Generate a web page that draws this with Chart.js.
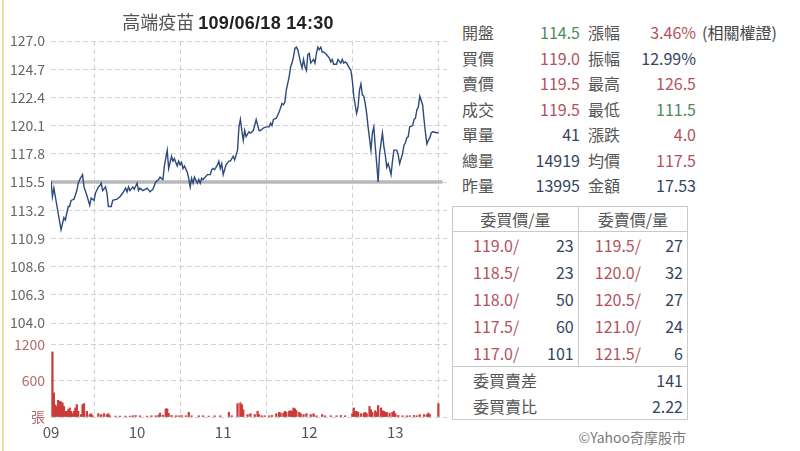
<!DOCTYPE html>
<html>
<head>
<meta charset="utf-8">
<script src="https://cdn.jsdelivr.net/npm/chart.js@4.4.1/dist/chart.umd.min.js"></script>
<style>
  html, body { margin: 0; padding: 0; background: #fff; }
  body { width: 800px; height: 451px; position: relative; overflow: hidden;
         font-family: 'Noto Sans CJK TC', 'Liberation Sans', sans-serif; color: #555; }
  #edge { position: absolute; left: 2px; top: 0; width: 2px; height: 451px; background: #efe29a; }
  #title { position: absolute; left: 0; width: 456px; top: 8px; text-align: center; font-size: 18px; line-height: 26px; }
  #title .name { color: #555; }
  #title .time { color: #222; font-weight: bold; font-family: 'Liberation Sans', sans-serif; letter-spacing: 0.3px; }
  #chartBox { position: absolute; left: 0; top: 0; width: 452px; height: 451px; }
  .info { position: absolute; left: 458px; top: 20px; border-collapse: collapse; font-size: 16px; }
  .info td { height: 25.5px; padding: 0; line-height: 25.5px; white-space: nowrap; }
  .info td.l1 { width: 42px; padding-left: 4px; }
  .info td.v1 { width: 76px; text-align: right; }
  .info td.l2 { width: 44px; padding-left: 8px; }
  .info td.v2 { width: 64px; text-align: right; }
  .info td.ex { padding-left: 6px; color: #444; }
  .g { color: #4d8a5e; } .r { color: #b2525e; } .n { color: #34445f; }
  .book { position: absolute; left: 452px; top: 206px; width: 236px; border-collapse: collapse;
          border: 1px solid #c9c9c9; font-size: 16px; }
  .book td { padding: 0; white-space: nowrap; }
  .book .hd td { height: 24px; text-align: center; border-bottom: 1px solid #c9c9c9; color: #555; }
  .book .row td { height: 26.8px; }
  .book td.split { border-right: 1px solid #c9c9c9; }
  .book td.px { padding-left: 20px; color: #b2525e; }
  .book td.px2 { padding-left: 16px; color: #b2525e; }
  .book td.qty { text-align: right; padding-right: 4px; color: #34445f; }
  .book .ft td { height: 26px; }
  .book .ft.first td { border-top: 1px solid #c9c9c9; }
  .book td.fl { padding-left: 20px; color: #555; }
  .book td.fv { text-align: right; padding-right: 4px; color: #34445f; }
  #credit { position: absolute; right: 114px; top: 427px; font-size: 14px; color: #7a7a7a; }
</style>
</head>
<body>
<div id="edge"></div>
<div id="chartBox"><canvas id="quoteChart"></canvas></div>
<div id="title"><span class="name">高端疫苗</span> <span class="time">109/06/18 14:30</span></div>

<table class="info">
  <tr><td class="l1">開盤</td><td class="v1 g">114.5</td><td class="l2">漲幅</td><td class="v2 r">3.46%</td><td class="ex">(相關權證)</td></tr>
  <tr><td class="l1">買價</td><td class="v1 r">119.0</td><td class="l2">振幅</td><td class="v2 n">12.99%</td><td></td></tr>
  <tr><td class="l1">賣價</td><td class="v1 r">119.5</td><td class="l2">最高</td><td class="v2 r">126.5</td><td></td></tr>
  <tr><td class="l1">成交</td><td class="v1 r">119.5</td><td class="l2">最低</td><td class="v2 g">111.5</td><td></td></tr>
  <tr><td class="l1">單量</td><td class="v1 n">41</td><td class="l2">漲跌</td><td class="v2 r">4.0</td><td></td></tr>
  <tr><td class="l1">總量</td><td class="v1 n">14919</td><td class="l2">均價</td><td class="v2 r">117.5</td><td></td></tr>
  <tr><td class="l1">昨量</td><td class="v1 n">13995</td><td class="l2">金額</td><td class="v2 n">17.53</td><td></td></tr>
</table>

<table class="book" id="book"></table>
<div id="credit">©Yahoo奇摩股市</div>

<script>
// price line: minutes after 09:00 and price
const priceTimes = [0, 1, 2, 7, 9, 10, 12, 13, 14, 16, 18, 19, 20, 22, 23, 25, 27, 28, 30, 31, 33, 34, 35, 36, 38, 39, 40, 42, 43, 46, 48, 50, 52, 53, 54, 55, 57, 58, 60, 61,
  62, 64, 67, 69, 71, 73, 75, 76, 78, 79, 81, 82, 84, 85, 86, 88, 89, 90, 91, 92, 93, 95, 96, 97, 98, 99, 100, 102, 103, 104, 105, 106, 109, 111, 112, 113, 114, 116, 117, 118, 119,
  120, 122, 124, 125, 127, 128, 130, 131, 132, 133, 134, 135, 136, 138, 139, 141, 143, 145, 146, 148, 150, 152, 153, 154, 155, 157, 159, 161, 162, 163, 164, 166, 167, 168, 169,
  170, 171, 172, 174, 175, 176, 177, 178, 179, 180, 181, 183, 184, 185, 186, 187, 188, 189, 190, 192, 194, 195, 196, 197, 199, 200, 202, 203, 204, 205, 206, 207, 209,
  210, 211, 212, 213, 214, 215, 216, 217, 218, 219, 220, 221, 223, 224, 225, 226, 227, 228, 229, 231, 232, 233, 234, 235, 236, 237, 238, 239, 241, 242, 243, 245, 246, 247, 248, 249,
  250, 252, 253, 254, 255, 256, 257, 259, 260, 261, 262, 263, 264, 265, 266, 270];
const prices = [115.6, 114.3, 115.0, 111.6, 112.6, 112.4, 113.5, 113.5, 114.0, 114.1, 114.8, 115.4, 115.7, 116.1, 115.1, 114.4, 113.6, 114.2, 114.0, 114.6, 115.1, 115.2, 115.4, 114.8, 115.1, 114.6, 113.5, 113.5, 114.0, 114.1, 114.3, 114.6, 115.0, 114.7, 115.1, 114.8, 115.1, 114.9, 115.4, 114.8,
  115.0, 114.8, 115.0, 114.7, 114.9, 115.5, 115.7, 115.9, 115.7, 116.8, 118.1, 116.6, 117.6, 117.2, 117.4, 116.8, 117.2, 116.9, 117.1, 116.6, 116.8, 116.3, 115.8, 115.1, 115.8, 115.4, 115.9, 115.4, 115.7, 115.4, 115.8, 115.7, 116.1, 116.1, 116.5, 116.6, 116.5, 116.9, 117.2, 116.6, 117.0,
  116.1, 116.9, 117.2, 117.2, 117.6, 117.3, 118.1, 120.0, 120.6, 119.7, 118.9, 119.7, 119.2, 119.6, 119.5, 119.7, 120.6, 119.7, 119.7, 119.9, 120.0, 120.0, 120.3, 120.1, 120.6, 120.7, 121.2, 121.9, 121.8, 122.0, 123.0, 124.1, 124.9, 125.2, 125.7,
  126.4, 126.5, 126.3, 125.2, 124.8, 125.5, 124.9, 124.6, 125.9, 126.0, 125.2, 125.5, 125.2, 126.0, 126.5, 126.3, 126.5, 126.1, 126.1, 125.9, 125.6, 125.3, 125.5, 125.1, 125.1, 125.5, 125.2, 125.5, 125.2, 125.3, 125.2, 125.0, 124.6,
  123.8, 122.5, 121.8, 121.1, 121.6, 123.0, 123.5, 122.6, 122.5, 121.9, 121.1, 120.0, 118.1, 119.5, 120.0, 118.4, 117.0, 115.5, 117.8, 119.5, 118.4, 117.7, 116.7, 117.0, 116.6, 116.1, 117.2, 118.1, 118.1, 117.7, 117.0, 117.8, 118.5, 118.7, 119.1, 119.2,
  120.0, 120.1, 120.6, 120.7, 121.4, 121.6, 122.5, 121.8, 120.6, 119.5, 118.6, 118.9, 119.1, 119.5, 119.6, 119.5];

// volume bars (張)
const volTimes = [1, 2, 3, 4, 5, 6, 7, 8, 9, 10, 11, 12, 13, 14, 15, 16, 17, 18, 19, 21, 22, 23, 25, 27, 28, 29, 33, 35, 37, 39, 40, 41,
  45, 48, 52, 55, 57, 59, 62, 67, 70, 73, 75, 76, 78, 80, 81, 82, 84, 87, 89, 91, 94, 96, 98, 103, 106, 110, 114, 118, 124, 126,
  130, 132, 133, 134, 137, 139, 142, 144, 145, 147, 149, 152, 154, 157, 159, 160, 162, 163, 164, 166, 167, 168, 169, 170, 171, 173, 174, 176, 178,
  181, 183, 185, 189, 191, 195, 199, 202, 205, 210, 211, 212, 213, 214, 216, 218, 219, 220, 222, 223, 224, 226, 227, 228, 230, 231, 232, 233, 234,
  236, 238, 239, 240, 242, 245, 248, 250, 253, 255, 257, 260, 262, 263, 264, 270];
const volumes = [1080, 400, 200, 175, 277, 260, 250, 233, 175, 95, 95, 122, 150, 95, 55, 95, 150, 205, 95, 40, 205, 222, 95, 40, 55, 22, 55, 40, 55, 40, 55, 22,
  15, 15, 15, 15, 20, 25, 20, 15, 20, 20, 30, 65, 30, 135, 135, 60, 25, 20, 20, 25, 20, 77, 20, 20, 20, 15, 20, 20, 77, 20,
  222, 237, 205, 120, 40, 55, 40, 95, 40, 20, 20, 20, 25, 55, 77, 65, 65, 95, 77, 95, 105, 95, 150, 135, 105, 77, 55, 40, 55,
  40, 55, 20, 40, 20, 20, 20, 25, 20, 55, 150, 95, 95, 77, 55, 65, 77, 55, 175, 120, 77, 105, 77, 190, 150, 105, 95, 77, 77,
  65, 77, 95, 55, 25, 20, 20, 20, 25, 20, 40, 40, 40, 65, 40, 222];

const prevClose = 115.5;
const priceTicks = [104.0, 106.3, 108.6, 110.9, 113.2, 115.5, 117.8, 120.1, 122.4, 124.7, 127.0];
const volTicks = [0, 600, 1200];
const hourTicks = [0, 60, 120, 180, 240];
const hourLabels = ['09', '10', '11', '12', '13'];

// order book
const bidPrices = ['119.0', '118.5', '118.0', '117.5', '117.0'];
const bidQty = [23, 23, 50, 60, 101];
const askPrices = ['119.5', '120.0', '120.5', '121.0', '121.5'];
const askQty = [27, 32, 27, 24, 6];

function buildBook() {
    const book = document.getElementById('book');
    let html = '<tr class="hd"><td colspan="2" class="split">委買價/量</td><td colspan="2">委賣價/量</td></tr>';
    bidPrices.forEach((p, i) => {
        html += `<tr class="row"><td class="px">${p}/</td><td class="qty split">${bidQty[i]}</td>` +
                `<td class="px2">${askPrices[i]}/</td><td class="qty">${askQty[i]}</td></tr>`;
    });
    html += '<tr class="ft first"><td colspan="2" class="fl">委買賣差</td><td colspan="2" class="fv">141</td></tr>';
    html += '<tr class="ft"><td colspan="2" class="fl">委買賣比</td><td colspan="2" class="fv">2.22</td></tr>';
    book.innerHTML = html;
}
buildBook();

Chart.defaults.font.family = "'Noto Sans CJK TC', 'Liberation Sans', sans-serif";

const ctx = document.getElementById('quoteChart');
new Chart(ctx, {
    type: 'line',
    data: {
        datasets: [{
            label: 'price',
            data: priceTimes.map((t, i) => ({ x: t, y: prices[i] })),
            borderColor: '#2c4a7c',
            borderWidth: 1.4,
            pointRadius: 0,
            tension: 0,
            yAxisID: 'y',
            order: 1
        }, {
            label: 'prev close',
            data: [{ x: 0, y: prevClose }, { x: 273, y: prevClose }],
            borderColor: '#b9b9b9',
            borderWidth: 3.5,
            pointRadius: 0,
            yAxisID: 'y',
            order: 2
        }, {
            type: 'bar',
            label: 'volume',
            data: volTimes.map((t, i) => ({ x: t, y: volumes[i] })),
            backgroundColor: '#cc3a3a',
            barThickness: 1.6,
            yAxisID: 'yv',
            order: 3
        }]
    },
    options: {
        responsive: true,
        maintainAspectRatio: false,
        animation: false,
        layout: { padding: { top: 41, right: 5, left: 0, bottom: 0 } },
        plugins: {
            legend: { display: false },
            tooltip: { enabled: false }
        },
        scales: {
            x: {
                type: 'linear',
                min: 0,
                max: 276,
                offset: false,
                afterBuildTicks: scale => { scale.ticks = hourTicks.map(v => ({ value: v })); },
                afterFit: scale => { scale.height = 34; },
                ticks: {
                    callback: (v) => hourLabels[hourTicks.indexOf(v)],
                    color: '#555',
                    font: { size: 15 },
                    padding: 6,
                    maxRotation: 0,
                    autoSkip: false
                },
                grid: { color: '#d3d3d3', drawTicks: false },
                border: { display: false, dash: [5, 3] }
            },
            y: {
                type: 'linear',
                position: 'left',
                stack: 'panes',
                stackWeight: 3,
                weight: 1,
                min: 104,
                max: 127,
                afterBuildTicks: scale => { scale.ticks = priceTicks.map(v => ({ value: v })); },
                afterFit: scale => { scale.width = 51; },
                ticks: {
                    callback: v => v.toFixed(1),
                    color: '#666',
                    font: { size: 14 },
                    padding: 6,
                    autoSkip: false
                },
                grid: { color: '#d3d3d3', drawTicks: false },
                border: { display: false, dash: [5, 3] }
            },
            yv: {
                type: 'linear',
                position: 'left',
                stack: 'panes',
                stackWeight: 1,
                weight: 0,
                min: 0,
                max: 1560,
                afterBuildTicks: scale => { scale.ticks = volTicks.map(v => ({ value: v })); },
                afterFit: scale => { scale.width = 51; },
                ticks: {
                    callback: v => v === 0 ? '張' : String(v),
                    color: '#b46a6a',
                    font: { size: 14 },
                    padding: 6,
                    autoSkip: false
                },
                grid: { color: '#d3d3d3', drawTicks: false },
                border: { display: false, dash: [5, 3] }
            }
        }
    }
});
</script>
</body>
</html>
